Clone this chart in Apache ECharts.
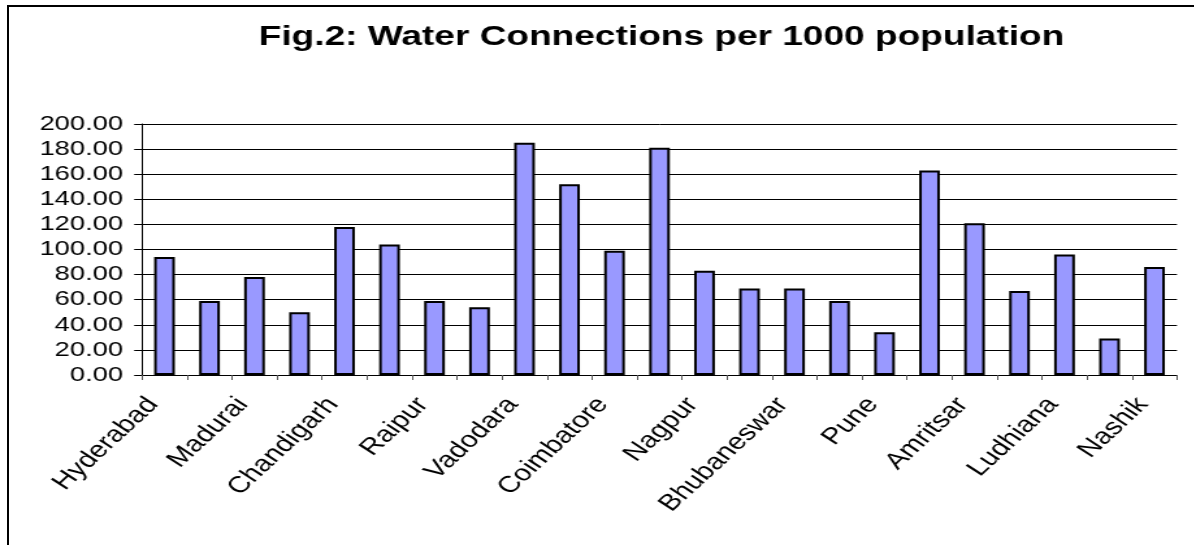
<!DOCTYPE html>
<html>
<head>
<meta charset="utf-8">
<script src="https://cdn.jsdelivr.net/npm/echarts@6/dist/echarts.min.js"></script>
<style>
  html, body { margin: 0; padding: 0; background: #ffffff; overflow: hidden; }
  #wrap { position: relative; width: 1194px; height: 545px; overflow: hidden; background: #fff; }
  #frame { position: absolute; left: 7px; top: 5px; width: 1300px; height: 700px;
           border-left: 2px solid #000; border-top: 2px solid #000; box-sizing: border-box; }
  #chart { position: absolute; left: 0; top: 0; height: 545px; transform-origin: 0 0; }
</style>
</head>
<body>
<div id="wrap">
  <div id="frame"></div>
  <div id="chart"></div>
</div>
<script>
// ---- data ----
const titleText = 'Fig.2: Water Connections per 1000 population';
// 23 cities; only every other name is legible in the reference (others left blank)
const categories = ['Hyderabad', '', 'Madurai', '', 'Chandigarh', '', 'Raipur', '', 'Vadodara', '',
                    'Coimbatore', '', 'Nagpur', '', 'Bhubaneswar', '', 'Pune', '', 'Amritsar', '',
                    'Ludhiana', '', 'Nashik'];
const connections = [94, 59, 78, 50, 118, 104, 59, 54, 185, 152,
                     99, 181, 83, 69, 69, 59, 34, 163, 121, 67,
                     96, 29, 86];
const yTicks = [0, 20, 40, 60, 80, 100, 120, 140, 160, 180, 200];

// ---- layout (the reference is horizontally stretched) ----
const S = 1.3;
const W = 1194 / S;
const el = document.getElementById('chart');
el.style.width = W + 'px';
el.style.transform = 'scaleX(' + S + ')';

const chart = echarts.init(el, null, { renderer: 'canvas', width: W, height: 545 });
chart.setOption({
  animation: false,
  backgroundColor: 'transparent',
  title: {
    text: titleText,
    left: 655 / S,
    textAlign: 'center',
    top: 18,
    textStyle: { fontFamily: 'Liberation Sans, Arial, sans-serif', fontWeight: 'bold', fontSize: 28.5, color: '#000' }
  },
  grid: { left: 142 / S, right: 17 / S, top: 124, bottom: 170, containLabel: false },
  xAxis: {
    type: 'category',
    data: categories,
    boundaryGap: true,
    axisLine: { lineStyle: { color: '#000', width: 1 } },
    axisTick: { show: true, interval: 0, length: 5, alignWithLabel: false, lineStyle: { color: '#555', width: 1 } },
    axisLabel: {
      interval: 1,
      rotate: 50,
      margin: 15,
      padding: [0, 14, 0, 0],
      fontFamily: 'Liberation Sans, Arial, sans-serif',
      fontSize: 23,
      color: '#000'
    },
    splitLine: { show: false }
  },
  yAxis: {
    type: 'value',
    min: yTicks[0],
    max: yTicks[yTicks.length - 1],
    interval: 20,
    axisLine: { show: true, lineStyle: { color: '#000', width: 1 } },
    axisTick: { show: true, length: 6, lineStyle: { color: '#000', width: 1 } },
    axisLabel: {
      margin: 19 / S,
      fontFamily: 'Liberation Sans, Arial, sans-serif',
      fontSize: 21,
      color: '#000',
      formatter: v => v.toFixed(2)
    },
    splitLine: { show: true, lineStyle: { color: '#000', width: 1 } }
  },
  series: [{
    type: 'bar',
    data: connections,
    barWidth: '46%',
    itemStyle: { color: '#9999FF', borderColor: '#000', borderWidth: 2 }
  }]
});
</script>
</body>
</html>
